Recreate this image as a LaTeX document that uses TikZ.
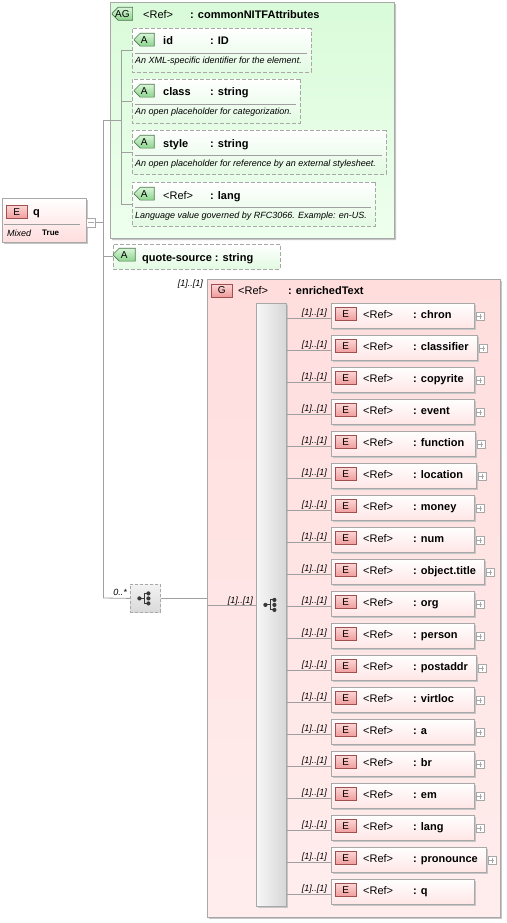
\documentclass[tikz,border=0pt]{standalone}
\usepackage{fontspec}
\setmainfont{Liberation Sans}
\usetikzlibrary{shapes.misc,shadows}
\definecolor{elborder}{HTML}{A8A8A8}
\definecolor{elbot}{HTML}{FFE6E6}
\definecolor{ebtop}{HTML}{FCD6D6}
\definecolor{ebbot}{HTML}{F09C9C}
\definecolor{ebborder}{HTML}{A05050}
\definecolor{grptop}{HTML}{FFDDDD}
\definecolor{grpbot}{HTML}{FFEDED}
\definecolor{agtop}{HTML}{D9FBD9}
\definecolor{agbot}{HTML}{EEFFEE}
\definecolor{attrbot}{HTML}{E2FAE2}
\definecolor{abtop}{HTML}{D8F6D8}
\definecolor{abbot}{HTML}{8ED48E}
\definecolor{abborder}{HTML}{507850}
\definecolor{shadowc}{HTML}{C6C6C6}
\definecolor{linec}{HTML}{A0A0A0}
\definecolor{iconc}{HTML}{383838}
\newcommand\seqglyph[1]{%
  \begin{scope}[shift={(#1)}]
    \draw[iconc, line width=0.9pt] (-6,0) -- (-1,0) (-1,-5) -- (-1,5) (-1,-5) -- (3,-5) (-1,5) -- (3,5);
    \fill[iconc] (-6,0) circle (2.1pt) (3,-5) circle (2.1pt) (3,0) circle (2.1pt) (3,5) circle (2.1pt);
  \end{scope}}
\newcommand\elrow[4]{%
  \pgfmathsetmacro\T{303+32*(#1)}
  \node[elbox, minimum width=#3pt, minimum height=25pt] (el#1) at (331,\T) {};
  \node[ebadge] (elb#1) at (335,\T+4) {E};
  \node[rf] (elr#1) at (363,\T+15) {<Ref>};
  \node[nm] (eln#1) at (413,\T+15) {: #2};
  \node[card] (elc#1) at (327,\T+12) {[1]..[1]};
  \coordinate (ep#1) at ([yshift=-2.5pt]el#1.west);
  \draw[conn] (bar.east |- ep#1) -- (ep#1);
  \ifnum#4=1 \node[plusbox] (elp#1) at ([xshift=1.5pt,yshift=-9pt]el#1.north east) {};\fi
}
\newcommand\attrrow[6]{%
  \node[attrbox, minimum width=#3pt, minimum height=44pt] (#1) at (132,#2) {};
  \node[abadge] (#1-b) at (137,#2+8) {A};
  \node[nm] (#1-n) at (163,#2+17) {#4};
  \node[nm] (#1-t) at (210,#2+17) {#5};
  \draw[sepl] (135,#2+25) -- (132+#3-4,#2+25);
  \node[desc] (#1-d) at (135,#2+36) {#6};
}
\begin{document}
\begin{tikzpicture}[x=1pt,y=-1pt,
  conn/.style={draw=linec, line width=0.8pt},
  sepl/.style={draw=linec, line width=0.7pt},
  sh/.style={drop shadow={shadow xshift=2pt, shadow yshift=-2pt, fill=shadowc, opacity=1}},
  elbox/.style={rectangle, draw=elborder, line width=0.8pt, top color=white, bottom color=elbot, inner sep=0, outer sep=0, anchor=north west, sh},
  ebadge/.style={rectangle, draw=ebborder, line width=0.6pt, top color=ebtop, bottom color=ebbot, minimum width=21pt, minimum height=13pt, inner sep=0, anchor=north west, font=\fontsize{10}{12}\selectfont},
  abadge/.style={chamfered rectangle, chamfered rectangle corners={north west,south west}, chamfered rectangle sep=3pt, draw=abborder, line width=0.6pt, top color=abtop, bottom color=abbot, minimum width=20pt, minimum height=11pt, inner sep=0, anchor=north west, font=\fontsize{10}{12}\selectfont},
  attrbox/.style={chamfered rectangle, chamfered rectangle corners={north west,south west}, chamfered rectangle sep=6pt, draw=elborder, line width=0.8pt, dash pattern=on 4pt off 2pt, top color=white, bottom color=attrbot, inner sep=0, outer sep=0, anchor=north west},
  plusbox/.style={rectangle, draw=elborder, line width=0.6pt, fill=white, minimum size=8pt, inner sep=0, anchor=north west,
    path picture={\draw[elborder, line width=0.6pt] ([xshift=1.5pt]path picture bounding box.west) -- ([xshift=-1.5pt]path picture bounding box.east) ([yshift=-1.5pt]path picture bounding box.north) -- ([yshift=1.5pt]path picture bounding box.south);}},
  minusbox/.style={rectangle, draw=elborder, line width=0.6pt, fill=white, minimum size=9pt, inner sep=0, anchor=north west,
    path picture={\draw[elborder, line width=0.6pt] ([xshift=1.5pt]path picture bounding box.west) -- ([xshift=-1.5pt]path picture bounding box.east);}},
  nm/.style={inner sep=0, anchor=base west, font=\fontsize{11}{13}\selectfont\bfseries},
  rf/.style={inner sep=0, anchor=base west, font=\fontsize{11}{13}\selectfont},
  desc/.style={inner sep=0, anchor=base west, font=\fontsize{9}{11}\selectfont\itshape},
  card/.style={inner sep=0, anchor=base east, font=\fontsize{9}{11}\selectfont\itshape}
]
\useasboundingbox (0,0) rectangle (506,923);
\fill[white] (0,0) rectangle (506,923);

% attribute group
\node[chamfered rectangle, chamfered rectangle corners={north west,south west}, chamfered rectangle sep=8pt, draw=elborder, line width=0.8pt, top color=agtop, bottom color=agbot, minimum width=284pt, minimum height=236pt, inner sep=0, anchor=north west, sh] (ag) at (110,2) {};
\node[abadge, minimum width=20pt] (ag-b) at (115,10) {AG};
\node[rf] (ag-r) at (143,19) {<Ref>};
\node[nm] (ag-n) at (190,19) {: commonNITFAttributes};

\attrrow{at-id}{28}{179}{id}{: ID}{An XML-specific identifier for the element.}
\attrrow{at-class}{79}{168}{class}{: string}{An open placeholder for categorization.}
\attrrow{at-style}{130}{254}{style}{: string}{An open placeholder for reference by an external stylesheet.}
\attrrow{at-lang}{182}{243}{\mdseries <Ref>}{: lang}{Language value governed by RFC3066. Example: en-US.}

\coordinate (agspine) at (121,120);
\foreach \a in {at-id,at-class,at-style,at-lang}{
  \draw[conn] (\a.west -| agspine) -- (\a.west);
}
\draw[conn] (at-id.west -| agspine) -- (at-lang.west -| agspine);

% element q
\node[elbox, minimum width=84pt, minimum height=44pt, bottom color=grptop] (qel) at (2,198) {};
\node[ebadge] (qel-b) at (6,205) {E};
\node[nm] (qel-n) at (33,215) {q};
\draw[sepl] (4,224) -- (80,224);
\node[desc] (qel-m) at (7,236) {Mixed};
\node[inner sep=0, anchor=base west, font=\fontsize{8}{10}\selectfont\bfseries] (qel-t) at (42,235) {True};
\node[minusbox] (qmin) at (86,217.5) {};

% main trunk
\coordinate (jAG) at (103,120);
\coordinate (jSeq) at (103,598);
\draw[conn] (jAG) -- (jSeq);
\draw[conn] (qmin.east) -- (qmin.east -| jAG);
\draw[conn] (jAG) -- (agspine);

% quote-source
\node[attrbox, chamfered rectangle sep=5pt, minimum width=167pt, minimum height=25pt] (qs) at (113,244) {};
\node[abadge, minimum width=22pt] (qs-b) at (116,251) {A};
\node[nm] (qs-n) at (142,261) {quote-source : string};
\draw[conn] (qs.west -| jAG) -- (qs.west);

% outer sequence
\node[rectangle, draw=elborder, line width=0.8pt, dash pattern=on 3pt off 2pt, top color=white!95!black, bottom color=white!85!black, minimum width=30pt, minimum height=28pt, inner sep=0, anchor=north west] (oseq) at (130,584) {};
\seqglyph{oseq.center}
\node[card] (oseq-c) at (127,595) {0..*};
\draw[conn] (jSeq) -- (oseq.west);

% group
\node[rectangle, draw=elborder, line width=0.8pt, top color=grptop, bottom color=grpbot, minimum width=293pt, minimum height=638pt, inner sep=0, anchor=north west, sh] (grp) at (207,279) {};
\node[ebadge] (grp-b) at (211,283.5) {G};
\node[rf] (grp-r) at (238,294) {<Ref>};
\node[nm] (grp-n) at (288,294) {: enrichedText};
\node[card] (grp-c) at (203,286) {[1]..[1]};
\draw[conn] (oseq.east) -- (oseq.east -| grp.west);

% inner sequence bar
\node[rectangle, draw=elborder, line width=0.8pt, left color=white!97!black, right color=white!84!black, minimum width=30pt, minimum height=603pt, inner sep=0, anchor=north west, sh] (bar) at (256,303) {};
\seqglyph{bar.center}
\draw[conn] (grp.west |- bar.west) -- (bar.west);
\node[card] (bar-c) at (253,603) {[1]..[1]};

\elrow{0}{chron}{143}{1}
\elrow{1}{classifier}{146}{1}
\elrow{2}{copyrite}{143}{1}
\elrow{3}{event}{143}{1}
\elrow{4}{function}{144}{1}
\elrow{5}{location}{145}{1}
\elrow{6}{money}{143}{1}
\elrow{7}{num}{143}{1}
\elrow{8}{object.title}{153}{1}
\elrow{9}{org}{143}{1}
\elrow{10}{person}{143}{1}
\elrow{11}{postaddr}{145}{1}
\elrow{12}{virtloc}{143}{1}
\elrow{13}{a}{143}{1}
\elrow{14}{br}{143}{1}
\elrow{15}{em}{143}{1}
\elrow{16}{lang}{143}{1}
\elrow{17}{pronounce}{155}{1}
\elrow{18}{q}{143}{0}
\end{tikzpicture}
\end{document}
